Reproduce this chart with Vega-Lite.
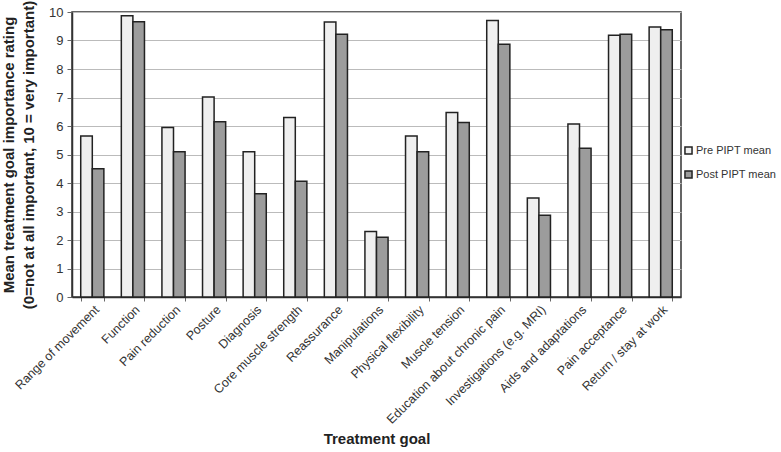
{
  "$schema": "https://vega.github.io/schema/vega-lite/v6.json",
  "autosize": "none",
  "width": 609,
  "height": 285,
  "padding": {"left": 72, "top": 12, "right": 100, "bottom": 155},
  "background": "white",
  "config": {
    "font": "Liberation Sans",
    "view": {"stroke": "#333333", "strokeWidth": 1.5}
  },
  "data": {
    "values": [
      {"goal": "Range of movement", "series": "Pre PIPT mean", "value": 5.65},
      {"goal": "Range of movement", "series": "Post PIPT mean", "value": 4.5},
      {"goal": "Function", "series": "Pre PIPT mean", "value": 9.87},
      {"goal": "Function", "series": "Post PIPT mean", "value": 9.66},
      {"goal": "Pain reduction", "series": "Pre PIPT mean", "value": 5.95},
      {"goal": "Pain reduction", "series": "Post PIPT mean", "value": 5.1},
      {"goal": "Posture", "series": "Pre PIPT mean", "value": 7.02},
      {"goal": "Posture", "series": "Post PIPT mean", "value": 6.15},
      {"goal": "Diagnosis", "series": "Pre PIPT mean", "value": 5.1},
      {"goal": "Diagnosis", "series": "Post PIPT mean", "value": 3.62},
      {"goal": "Core muscle strength", "series": "Pre PIPT mean", "value": 6.3},
      {"goal": "Core muscle strength", "series": "Post PIPT mean", "value": 4.06},
      {"goal": "Reassurance", "series": "Pre PIPT mean", "value": 9.65},
      {"goal": "Reassurance", "series": "Post PIPT mean", "value": 9.22},
      {"goal": "Manipulations", "series": "Pre PIPT mean", "value": 2.3},
      {"goal": "Manipulations", "series": "Post PIPT mean", "value": 2.1},
      {"goal": "Physical flexibility", "series": "Pre PIPT mean", "value": 5.65},
      {"goal": "Physical flexibility", "series": "Post PIPT mean", "value": 5.1},
      {"goal": "Muscle tension", "series": "Pre PIPT mean", "value": 6.47},
      {"goal": "Muscle tension", "series": "Post PIPT mean", "value": 6.12},
      {"goal": "Education about chronic pain", "series": "Pre PIPT mean", "value": 9.7},
      {"goal": "Education about chronic pain", "series": "Post PIPT mean", "value": 8.87},
      {"goal": "Investigations (e.g. MRI)", "series": "Pre PIPT mean", "value": 3.47},
      {"goal": "Investigations (e.g. MRI)", "series": "Post PIPT mean", "value": 2.87},
      {"goal": "Aids and adaptations", "series": "Pre PIPT mean", "value": 6.07},
      {"goal": "Aids and adaptations", "series": "Post PIPT mean", "value": 5.22},
      {"goal": "Pain acceptance", "series": "Pre PIPT mean", "value": 9.18},
      {"goal": "Pain acceptance", "series": "Post PIPT mean", "value": 9.22},
      {"goal": "Return / stay at work", "series": "Pre PIPT mean", "value": 9.47},
      {"goal": "Return / stay at work", "series": "Post PIPT mean", "value": 9.38}
    ]
  },
  "mark": {"type": "bar", "stroke": "#222222", "strokeWidth": 1.5},
  "encoding": {
    "x": {
      "field": "goal",
      "type": "nominal",
      "sort": null,
      "scale": {"paddingInner": 0.43, "paddingOuter": 0.215},
      "axis": {
        "title": "Treatment goal",
        "titleFontSize": 15,
        "titleFontWeight": "bold",
        "titleColor": "#222222",
        "titleY": 134,
        "titleBaseline": "top",
        "labelAngle": -45,
        "labelAlign": "right",
        "labelBaseline": "top",
        "labelFontSize": 12.5,
        "labelColor": "#333333",
        "labelPadding": 2,
        "tickBand": "extent",
        "tickColor": "#666666",
        "tickSize": 4,
        "domainColor": "#333333",
        "domainWidth": 1.5
      }
    },
    "xOffset": {
      "field": "series",
      "type": "nominal",
      "sort": ["Pre PIPT mean", "Post PIPT mean"],
      "scale": {"paddingInner": 0, "paddingOuter": 0}
    },
    "y": {
      "field": "value",
      "type": "quantitative",
      "scale": {"domain": [0, 10], "nice": false},
      "axis": {
        "title": ["Mean treatment goal importance rating", "(0=not at all important, 10 = very important)"],
        "titleFontSize": 15,
        "titleFontWeight": "bold",
        "titleColor": "#222222",
        "titlePadding": 12,
        "titleLineHeight": 20,
        "values": [0, 1, 2, 3, 4, 5, 6, 7, 8, 9, 10],
        "labelFontSize": 13,
        "labelColor": "#333333",
        "labelPadding": 4,
        "tickColor": "#666666",
        "tickSize": 5,
        "grid": true,
        "gridColor": "#bbbbbb",
        "gridWidth": 1,
        "domainColor": "#333333",
        "domainWidth": 1.5
      }
    },
    "fill": {
      "field": "series",
      "type": "nominal",
      "sort": ["Pre PIPT mean", "Post PIPT mean"],
      "scale": {"range": ["#efefef", "#9c9c9c"]},
      "legend": {
        "title": null,
        "orient": "none",
        "legendX": 611,
        "legendY": 133,
        "symbolType": "square",
        "symbolSize": 50,
        "symbolStrokeColor": "#222222",
        "symbolStrokeWidth": 1.5,
        "labelFontSize": 11,
        "labelLimit": 200,
        "labelColor": "#333333",
        "rowPadding": 9,
        "labelOffset": 2
      }
    }
  }
}
